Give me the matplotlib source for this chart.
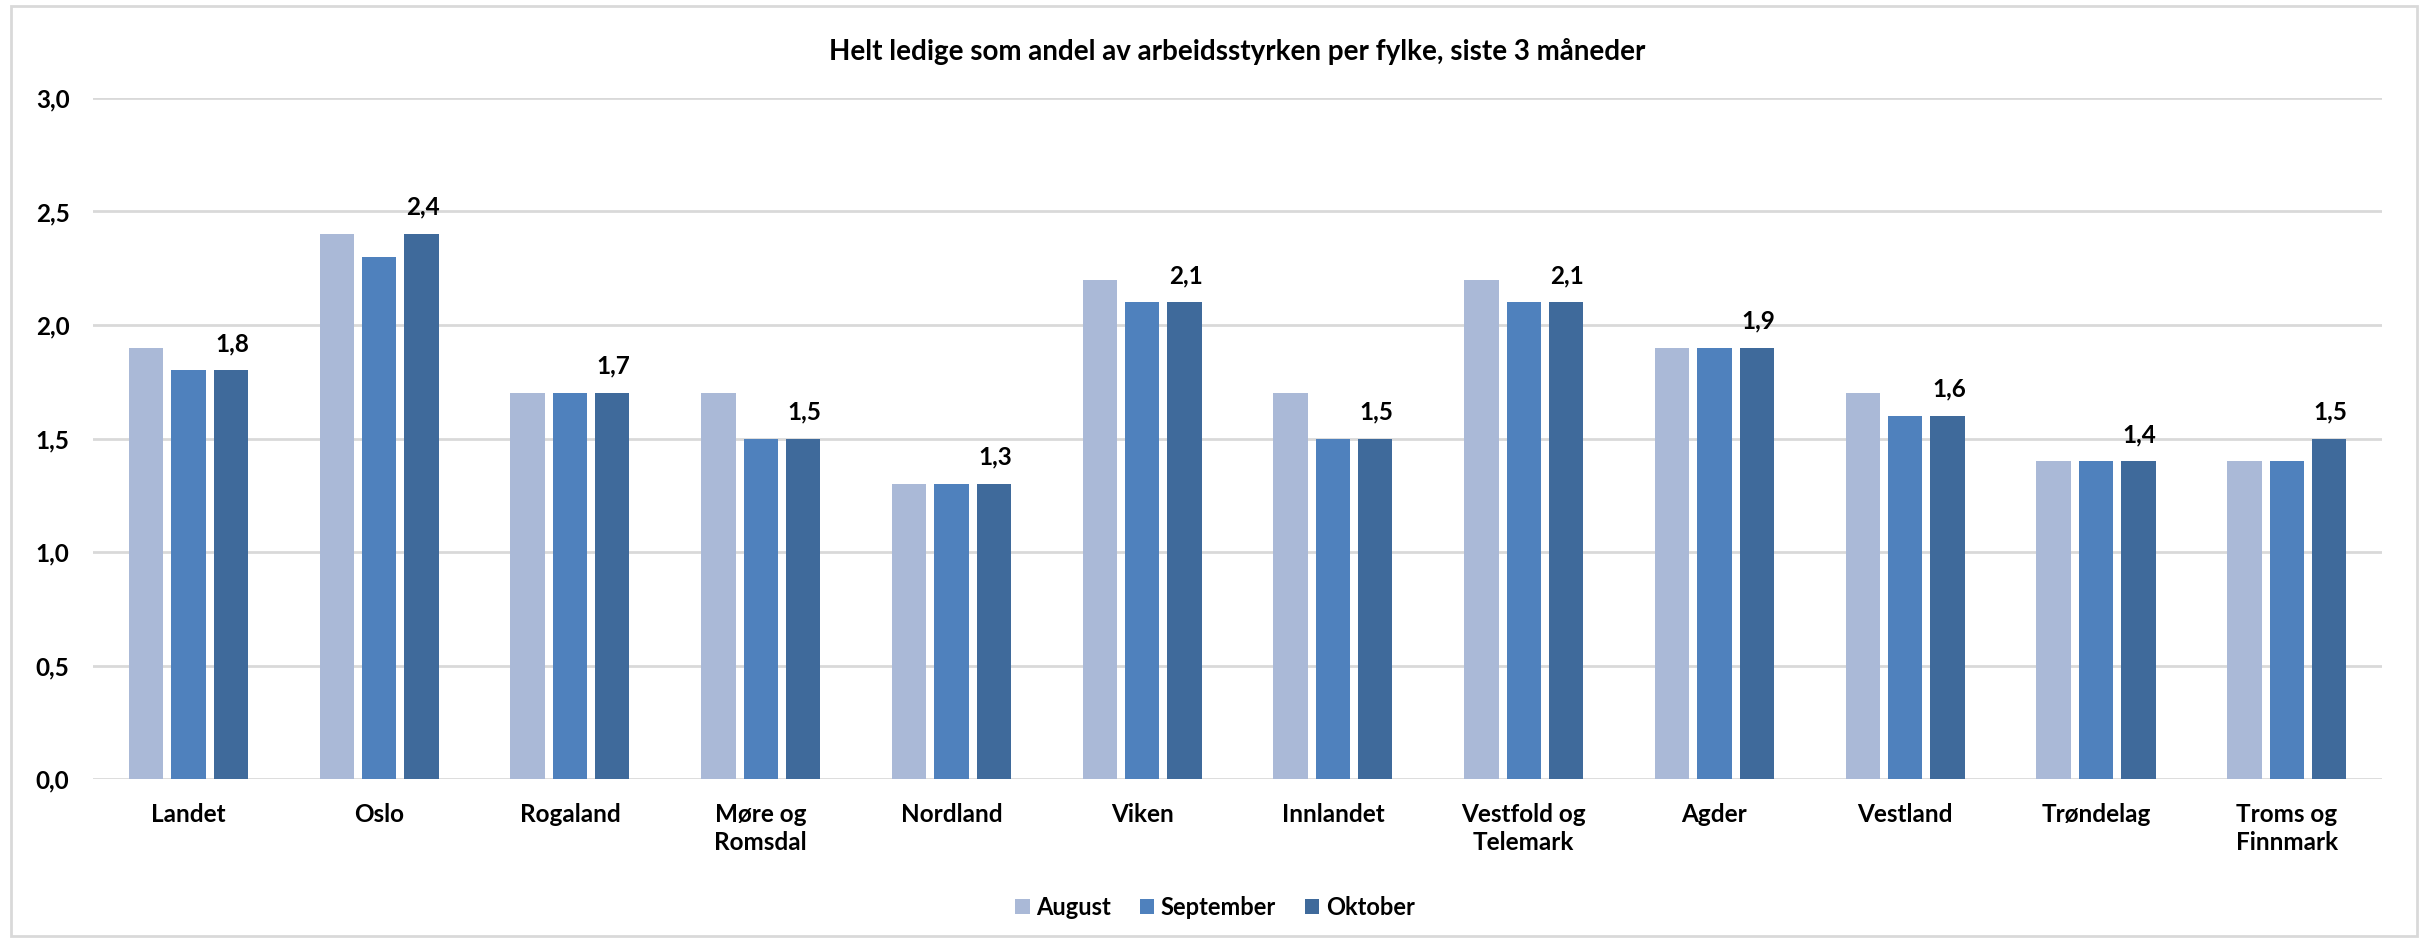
import numpy as np
import matplotlib
matplotlib.use("Agg")
import matplotlib.pyplot as plt
from matplotlib.patches import Rectangle

fylker = ["Landet", "Oslo", "Rogaland", "Møre og\nRomsdal", "Nordland", "Viken",
          "Innlandet", "Vestfold og\nTelemark", "Agder", "Vestland", "Trøndelag",
          "Troms og\nFinnmark"]
august = [1.9, 2.4, 1.7, 1.7, 1.3, 2.2, 1.7, 2.2, 1.9, 1.7, 1.4, 1.4]
september = [1.8, 2.3, 1.7, 1.5, 1.3, 2.1, 1.5, 2.1, 1.9, 1.6, 1.4, 1.4]
oktober = [1.8, 2.4, 1.7, 1.5, 1.3, 2.1, 1.5, 2.1, 1.9, 1.6, 1.4, 1.5]
yticks = [0.0, 0.5, 1.0, 1.5, 2.0, 2.5, 3.0]

plt.rcParams['font.family'] = ['Lato', 'DejaVu Sans']
plt.rcParams['font.weight'] = 'bold'

fig = plt.figure(figsize=(24.3, 9.42), dpi=100)
ax = fig.add_axes([0.0383, 0.173, 0.942, 0.723])

x = np.arange(len(fylker))
w = 0.18
step = 0.222
ax.bar(x - step, august, w, color="#AAB9D7", label="August", zorder=3)
ax.bar(x, september, w, color="#4F81BD", label="September", zorder=3)
bars = ax.bar(x + step, oktober, w, color="#3F6A9B", label="Oktober", zorder=3)

# only the last month gets value labels
for b, v in zip(bars, oktober):
    ax.annotate(f"{v:.1f}".replace(".", ","), (b.get_x() + b.get_width() / 2, v),
                xytext=(1, 11), textcoords="offset points", ha="center", va="bottom",
                fontsize=17.5, fontweight="bold")

ax.set_xlim(-0.5, len(fylker) - 0.5)
ax.set_ylim(0, 3.0)
ax.set_yticks(yticks)
ax.set_yticklabels([f"{t:.1f}".replace(".", ",") for t in yticks])
ax.set_xticks(x)
ax.set_xticklabels(fylker, linespacing=1.3)
ax.tick_params(axis="both", length=0, labelsize=17.5)
ax.tick_params(axis="y", pad=17)
ax.tick_params(axis="x", pad=17)
ax.grid(axis="y", color="#D9D9D9", linewidth=2, zorder=0)
for s in ax.spines.values():
    s.set_visible(False)

ax.set_title("Helt ledige som andel av arbeidsstyrken per fylke, siste 3 måneder",
             fontsize=20, fontweight="bold", pad=27)

fig.legend(loc="lower center", bbox_to_anchor=(0.5, 0.002), ncol=3, frameon=False,
           fontsize=17, handlelength=0.6, handleheight=0.6, handletextpad=0.3,
           columnspacing=1.2)

fig.patches.append(Rectangle((0.0045, 0.006), 0.99, 0.988, transform=fig.transFigure,
                             fill=False, edgecolor="#D9D9D9", linewidth=2))

fig.savefig("out.png", dpi=100)
